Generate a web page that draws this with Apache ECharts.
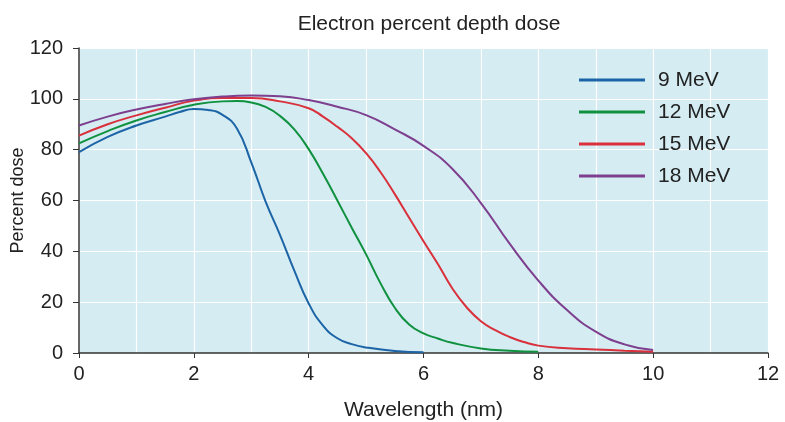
<!DOCTYPE html>
<html><head><meta charset="utf-8">
<script src="https://cdn.jsdelivr.net/npm/echarts@6/dist/echarts.min.js"></script>
<style>html,body{margin:0;padding:0;background:#fff}#c{width:785px;height:422px}</style>
</head><body><div id="c"></div>
<script>
var seriesNames = ['9 MeV', '12 MeV', '15 MeV', '18 MeV'];
var depth9 = [0,0.5,1,1.5,1.75,2,2.25,2.5,2.75,3,3.25,3.5,3.75,4,4.25,4.5,4.75,5,5.5,6];
var dose9  = [79,85,89.5,93,94.8,96,95.6,93.7,88.3,75,59.6,46.5,32.4,19.5,10.8,5.8,3.5,2.2,0.8,0.3];
var depth12 = [0,0.5,1,1.5,2,2.5,2.75,3,3.25,3.5,3.75,4,4.25,4.5,4.75,5,5.25,5.5,5.75,6,6.25,6.5,7,7.5,8];
var dose12  = [82.5,87.3,91.5,94.8,97.7,99,99.1,98.6,96.8,93.3,88,80.2,70.5,60,49.3,38.8,27.5,17.8,11.2,7.7,5.7,4,1.8,0.9,0.5];
var depth15 = [0,0.5,1,1.5,2,2.5,3,3.5,4,4.25,4.5,4.75,5,5.25,5.5,5.75,6,6.25,6.5,6.75,7,7.25,7.5,7.75,8,8.5,9,9.5,10];
var dose15  = [85.5,90,93.5,96.5,99.3,100.3,100.3,99,96.3,93,89,84.5,78.6,71.2,62.5,53.2,44,35,25.5,18,12.5,9,6.3,4.3,2.9,1.9,1.4,0.9,0.5];
var depth18 = [0,0.5,1,1.5,2,2.5,3,3.5,4,4.5,5,5.5,6,6.5,7,7.5,8,8.5,9,9.5,10];
var dose18  = [89.5,93,95.8,98,99.8,100.9,101.3,101,99.5,96.9,93.6,88,81.5,72.5,59,43,28.5,16.9,8.4,3.4,1.2];
var colors = ['#1d64a6', '#10913f', '#d9303b', '#7d3f8e'];

function pairs(xs, ys){ return xs.map(function(x,i){ return [x, ys[i]]; }); }
var allData = [pairs(depth9,dose9), pairs(depth12,dose12), pairs(depth15,dose15), pairs(depth18,dose18)];

var font = 'Liberation Sans, Arial, Helvetica, sans-serif';
var chart = echarts.init(document.getElementById('c'));
chart.setOption({
  animation: false,
  color: colors,
  title: {
    text: 'Electron percent depth dose',
    left: 424, top: 9, textAlign: 'center',
    textStyle: {fontFamily: font, fontSize: 21, fontWeight: 'normal', color: '#222'}
  },
  legend: {
    orient: 'vertical', left: 574, top: 64,
    icon: 'rect', itemWidth: 66, itemHeight: 3, itemGap: 10,
    textStyle: {fontFamily: font, fontSize: 21, color: '#222', lineHeight: 22, padding: [0,0,0,8]},
    data: seriesNames
  },
  grid: {
    left: 79, right: 17, top: 48, bottom: 69,
    containLabel: false, outerBoundsMode: 'none',
    show: true, backgroundColor: '#d4ecf2', borderWidth: 0
  },
  xAxis: {
    type: 'value', min: 0, max: 12, interval: 2,
    name: 'Wavelength (nm)', nameLocation: 'middle', nameGap: 47,
    nameMoveOverlap: false,
    nameTextStyle: {fontFamily: font, fontSize: 21, color: '#222'},
    axisLine: {show: true, lineStyle: {color: '#333', width: 1.5}},
    axisTick: {show: true, length: 5, lineStyle: {color: '#333'}},
    axisLabel: {fontFamily: font, fontSize: 20, color: '#222', margin: 11},
    splitLine: {show: true, lineStyle: {color: '#ffffff', width: 1.2}},
    minorTick: {show: false, splitNumber: 2},
    minorSplitLine: {show: true, lineStyle: {color: '#ffffff', width: 1.2}}
  },
  yAxis: {
    type: 'value', min: 0, max: 120, interval: 20,
    name: 'Percent dose', nameLocation: 'middle', nameGap: 52,
    nameMoveOverlap: false,
    nameTextStyle: {fontFamily: font, fontSize: 18, color: '#222'},
    axisLine: {show: true, lineStyle: {color: '#333', width: 1.5}},
    axisTick: {show: true, length: 6, lineStyle: {color: '#333'}},
    axisLabel: {fontFamily: font, fontSize: 20, color: '#222', margin: 16},
    splitLine: {show: true, lineStyle: {color: '#ffffff', width: 1.2}}
  },
  series: seriesNames.map(function(n, i){
    return {
      name: n, type: 'line', smooth: 0.5, showSymbol: false, symbol: 'none',
      lineStyle: {width: 2, color: colors[i]},
      itemStyle: {color: colors[i]},
      data: allData[i]
    };
  })
});
</script></body></html>
